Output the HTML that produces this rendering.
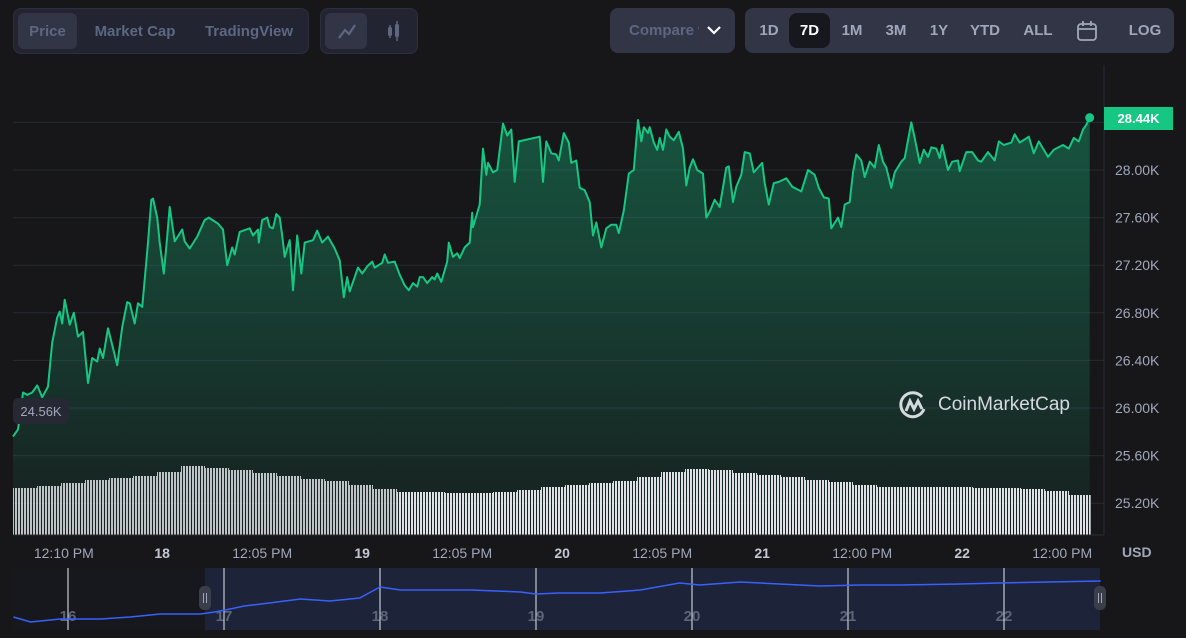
<!DOCTYPE html>
<html><head><meta charset="utf-8">
<style>
html,body{margin:0;padding:0;background:#17171a;width:1186px;height:638px;overflow:hidden;font-family:"Liberation Sans",sans-serif;}
.grp{position:absolute;border-radius:8px;box-sizing:border-box;}
.btn{position:absolute;top:0;height:100%;display:flex;align-items:center;justify-content:center;font-size:15px;font-weight:bold;color:#5d6781;}
.rbtn{position:absolute;top:5px;height:35px;display:flex;align-items:center;justify-content:center;font-size:15px;font-weight:bold;color:#a1a7bb;border-radius:8px;}
</style></head>
<body>
<div class="grp" style="left:13px;top:8px;width:296px;height:46px;background:#222531;border:1px solid #2c2f3d;">
  <div class="btn" style="left:4px;top:4px;height:36px;width:59px;background:#323546;border-radius:6px;">Price</div>
  <div class="btn" style="left:72px;width:98px;">Market Cap</div>
  <div class="btn" style="left:180px;width:110px;">TradingView</div>
</div>
<div class="grp" style="left:320px;top:8px;width:98px;height:46px;background:#222531;border:1px solid #2c2f3d;">
  <div style="position:absolute;left:4px;top:4px;width:42px;height:36px;background:#323546;border-radius:6px;">
    <svg width="42" height="36"><polyline points="14,25 20,17 24,21 30,12" fill="none" stroke="#5d6781" stroke-width="2.2"/></svg></div>
  <div style="position:absolute;left:54px;top:4px;width:42px;height:36px;">
    <svg width="42" height="36"><rect x="13" y="14" width="4" height="9" rx="1.5" fill="#5d6781"/><line x1="15" y1="12" x2="15" y2="25" stroke="#5d6781" stroke-width="1.5"/><rect x="20" y="11" width="4" height="13" rx="1.5" fill="#5d6781"/><line x1="22" y1="8" x2="22" y2="28" stroke="#5d6781" stroke-width="1.5"/></svg></div>
</div>
<div class="grp" style="left:610px;top:8px;width:125px;height:45px;background:#323546;">
  <span style="position:absolute;left:19px;top:14px;font-size:15px;font-weight:bold;color:#5d6781;width:70px;overflow:hidden;white-space:nowrap;">Compare with</span>
  <svg style="position:absolute;left:96px;top:15px" width="16" height="14"><polyline points="2,4 8,10 14,4" fill="none" stroke="#fff" stroke-width="2.2"/></svg>
</div>
<div class="grp" style="left:745px;top:8px;width:429px;height:45px;background:#323546;">
  <div class="rbtn" style="left:8px;width:32px;">1D</div>
  <div class="rbtn" style="left:44px;width:41px;background:#17181e;color:#fff;">7D</div>
  <div class="rbtn" style="left:90px;width:34px;">1M</div>
  <div class="rbtn" style="left:133px;width:36px;">3M</div>
  <div class="rbtn" style="left:180px;width:28px;">1Y</div>
  <div class="rbtn" style="left:220px;width:40px;">YTD</div>
  <div class="rbtn" style="left:274px;width:38px;">ALL</div>
  <div class="rbtn" style="left:328px;width:28px;"><svg width="22" height="22"><rect x="2" y="4" width="18" height="16" rx="3" fill="none" stroke="#a1a7bb" stroke-width="1.8"/><line x1="2" y1="9" x2="20" y2="9" stroke="#a1a7bb" stroke-width="1.8"/><line x1="7" y1="1" x2="7" y2="6" stroke="#a1a7bb" stroke-width="1.8"/><line x1="15" y1="1" x2="15" y2="6" stroke="#a1a7bb" stroke-width="1.8"/></svg></div>
  <div class="rbtn" style="left:380px;width:40px;">LOG</div>
</div>

<svg id="chart" width="1186" height="638" style="position:absolute;left:0;top:0;">
  <defs>
    <linearGradient id="areaGrad" x1="0" y1="0" x2="0" y2="1">
      <stop offset="0" stop-color="#16c784" stop-opacity="0.35"/>
      <stop offset="1" stop-color="#16c784" stop-opacity="0.05"/>
    </linearGradient>
    <pattern id="stripes" width="3" height="10" patternUnits="userSpaceOnUse">
      <rect x="0" y="0" width="2" height="10" fill="#e8ebf0"/>
    </pattern>
  </defs>
  <g id="grid"></g>
  <g id="area"></g>
  <g id="vol"></g>
  <g id="line"></g>
  <g id="axes"></g>
  <g id="nav"></g>
</svg>

<div style="position:absolute;left:1104px;top:107px;width:69px;height:23px;background:#16c784;color:#fff;font-weight:bold;font-size:13px;display:flex;align-items:center;justify-content:center;">28.44K</div>
<div style="position:absolute;left:13px;top:398px;width:56px;height:26px;background:#262833;border-radius:5px;color:#a1a7bb;font-size:13px;display:flex;align-items:center;justify-content:center;">24.56K</div>
<div style="position:absolute;left:898px;top:389px;display:flex;align-items:center;color:#d5d9e0;font-size:19px;">
  <svg width="32" height="32"><path d="M 26 20 A 12 12 0 1 1 24 8" fill="none" stroke="#d5d9e0" stroke-width="3"/><polyline points="8,22 12,12 16,20 20,12 24,20" fill="none" stroke="#d5d9e0" stroke-width="3"/></svg>
  <span style="margin-left:8px;">CoinMarketCap</span>
</div>
<div style="position:absolute;left:1122px;top:544px;font-size:14px;font-weight:bold;color:#a1a7bb;">USD</div>

<script>
const hours=[0,0.6,1.2,1.7,2.3,2.9,3.5,4.2,4.7,5.3,5.6,5.9,6.2,6.8,7.3,7.8,8.4,9.0,9.5,10.1,10.4,10.8,11.4,11.9,12.5,13.1,13.7,14.0,14.6,15.0,15.5,15.8,16.2,16.6,16.8,17.3,17.6,18.1,18.5,18.8,19.4,20.3,20.6,21.2,22.1,23.0,23.5,24.6,25.2,25.7,26.3,26.6,27.2,28.4,28.8,29.4,29.5,29.9,30.5,30.8,31.2,31.6,32.0,32.3,32.6,33.2,33.6,34.1,34.6,35.0,36.0,36.5,37.1,37.8,38.6,39.2,39.7,40.1,40.4,41.0,41.4,41.9,42.5,43.1,43.4,44.3,44.6,45.0,45.8,46.4,47.0,47.5,48.0,48.5,48.8,49.2,49.7,50.3,50.6,50.9,51.4,52.1,52.3,52.8,53.3,53.6,54.2,54.8,55.1,55.2,56.0,56.4,56.8,57.0,57.6,58.1,58.8,59.3,59.8,60.2,60.7,63.2,63.6,64.0,64.6,65.2,65.5,66.1,66.7,67.0,67.6,68.0,68.6,69.2,69.6,70.0,70.6,71.2,71.8,72.4,72.7,73.3,73.9,74.5,75.0,75.4,75.7,76.2,76.4,76.9,77.3,77.6,78.0,78.4,78.8,79.3,79.9,80.4,80.8,81.2,81.6,82.1,82.8,83.2,83.6,84.2,84.8,85.6,85.9,86.4,86.8,87.4,87.8,88.4,88.9,89.9,90.2,90.7,91.3,91.9,92.8,93.5,94.6,95.4,96.2,96.7,97.3,97.9,98.2,99.0,99.4,99.8,100.4,100.8,101.2,101.8,102.2,102.8,103.4,103.9,104.4,104.8,105.4,105.8,106.6,107.0,107.8,108.2,108.8,109.3,109.8,110.2,110.8,111.2,111.5,112.2,112.7,113.4,113.6,114.4,115.1,115.8,116.2,117.0,117.8,118.3,118.9,119.8,120.2,120.8,121.9,122.5,123.1,124.2,124.9,126.0,126.7,127.3,127.9,128.4,128.8,129.2];
const prices=[25760,25820,26130,26110,26130,26190,26090,26180,26550,26760,26810,26710,26910,26700,26800,26600,26640,26210,26420,26390,26500,26420,26670,26530,26360,26680,26890,26880,26710,26880,26850,27080,27390,27750,27760,27600,27390,27130,27440,27690,27400,27500,27400,27340,27440,27580,27600,27550,27500,27200,27350,27290,27480,27510,27450,27500,27390,27580,27600,27520,27510,27630,27600,27450,27270,27410,26990,27450,27130,27390,27410,27490,27390,27440,27340,27240,26930,27100,26980,27100,27180,27130,27190,27230,27180,27220,27290,27220,27230,27120,27030,26990,27050,27020,27100,27100,27050,27100,27080,27130,27060,27230,27390,27270,27300,27260,27350,27390,27640,27520,27710,28180,27960,28060,27980,28000,28390,28290,28340,27900,28240,28280,27900,28240,28140,28130,28080,28310,28230,28060,28080,27850,27830,27730,27450,27560,27350,27510,27540,27540,27470,27660,27970,28000,28420,28240,28360,28310,28360,28230,28170,28270,28170,28340,28280,28250,28320,28180,27870,28020,28090,28000,27970,27600,27650,27750,27690,28020,28030,27730,27860,27960,28150,28140,27980,28060,27890,27710,27890,27900,27930,27860,27820,28000,27960,27850,27770,27760,27510,27600,27520,27710,27730,27980,28130,28080,27940,28070,28020,28210,28070,28020,27850,27980,28070,28100,28400,28270,28060,28170,28110,28190,28180,28100,28210,28000,28070,28080,27990,28150,28150,28080,28070,28150,28080,28240,28210,28230,28300,28230,28280,28140,28240,28110,28170,28210,28180,28270,28240,28340,28380,28440];
const volumes=[470,490,520,550,570,590,630,690,670,650,620,590,560,540,500,460,430,430,420,420,430,450,480,500,520,540,580,630,660,650,620,600,580,550,530,500,480,480,480,480,470,470,460,440,400];
const yTicks=[25200,25600,26000,26400,26800,27200,27600,28000,28400];
const yTickLabels=["25.20K","25.60K","26.00K","26.40K","26.80K","27.20K","27.60K","28.00K",""];
const xTickHours=[6.1,17.9,29.9,41.9,53.9,65.9,77.9,89.9,101.9,113.9,125.9];
const xTickLabels=["12:10 PM","18","12:05 PM","19","12:05 PM","20","12:05 PM","21","12:00 PM","22","12:00 PM"];
const navDays=[15.65,15.76,15.95,16.21,16.40,16.59,16.85,16.94,17.04,17.13,17.29,17.49,17.68,17.87,18.0,18.13,18.32,18.58,18.90,19.0,19.15,19.41,19.67,19.92,20.05,20.31,20.56,20.82,21.08,21.33,21.72,21.97,22.29,22.62];
const navPrices=[24245,23660,24010,24010,24245,24595,24595,24830,25180,25530,25880,26340,26110,26460,27740,27390,27390,27390,27160,26930,27040,27040,27390,28210,27970,28320,28090,27860,27970,27970,28090,28210,28320,28440];
const navTickDays=[16,17,18,19,20,21,22];
const navTickLabels=["16","17","18","19","20","21","22"];

const NS="http://www.w3.org/2000/svg";
function mk(tag,attrs,parent){const e=document.createElementNS(NS,tag);for(const k in attrs)e.setAttribute(k,attrs[k]);parent.appendChild(e);return e;}
const X0=13, PX_PER_H=1/0.12;
function xScale(h){return X0+h*PX_PER_H;}
function yScale(p){return 170+(28000-p)/8.403;}
const VOL_BASE=535, VOL_K=0.1, VOL_W=24;
function vScale(v){return VOL_BASE-v*VOL_K;}
function navX(d){return 68+(d-16)*156;}
function navY(p){return 604-(p-25760)/116.5;}

const grid=document.getElementById('grid');
const axes=document.getElementById('axes');
yTicks.forEach((t,i)=>{
  const l=mk('line',{x1:13,x2:1104,y1:yScale(t),y2:yScale(t),stroke:'#262937','stroke-width':1},grid);
  
  
  if(yTickLabels[i]){
    const tx=mk('text',{x:1115,y:yScale(t)+5,fill:'#a1a7bb','font-size':14,'font-family':'Liberation Sans, sans-serif'},axes);
    tx.textContent=yTickLabels[i];
    
    
  }
});
const ax1=mk('line',{x1:1104,x2:1104,y1:65,y2:535,stroke:'#2a2d3a'},axes);


const ax2=mk('line',{x1:13,x2:1104,y1:535,y2:535,stroke:'#2a2d3a'},axes);


xTickHours.forEach((h,i)=>{
  const bold=/^\d+$/.test(xTickLabels[i]);
  const tx=mk('text',{x:xScale(h),y:558,fill:bold?'#c3c8d5':'#a1a7bb','font-size':14,'font-weight':bold?'bold':'normal','text-anchor':'middle','font-family':'Liberation Sans, sans-serif'},axes);
  tx.textContent=xTickLabels[i];
  
  
});

let d='';
hours.forEach((h,i)=>{d+=(i?'L':'M')+xScale(h).toFixed(1)+','+yScale(prices[i]).toFixed(1);});
const lastX=xScale(hours[hours.length-1]);
const area=mk('path',{d:d+'L'+lastX+',535L'+xScale(hours[0])+',535Z',fill:'url(#areaGrad)'},document.getElementById('area'));



const vg=document.getElementById('vol');
volumes.forEach((v,i)=>{
  const x=X0+i*VOL_W;
  const w=Math.min(VOL_W,lastX+1-x);
  const r=mk('rect',{x:x,y:vScale(v),width:w,height:VOL_BASE-vScale(v),fill:'url(#stripes)',opacity:x<376?0.8:0.95},vg);
  
  
});

const ln=mk('path',{d:d,fill:'none',stroke:'#16c784','stroke-width':2,'stroke-linejoin':'round'},document.getElementById('line'));


const dot=mk('circle',{cx:lastX,cy:yScale(prices[prices.length-1]),r:4.5,fill:'#16c784'},document.getElementById('line'));



const nav=document.getElementById('nav');
const nbg=mk('rect',{x:13,y:568,width:1087,height:62,fill:'#17181d'},nav);


const sel=mk('rect',{x:205,y:568,width:895,height:62,fill:'#1d2339'},nav);


navTickDays.forEach((dd,i)=>{
  const l=mk('line',{x1:navX(dd),x2:navX(dd),y1:568,y2:630,stroke:'#e8ebf0','stroke-width':1},nav);
  
  
  const t=mk('text',{x:navX(dd),y:621,fill:'#5d6378','font-size':15,'font-weight':'bold','text-anchor':'middle','font-family':'Liberation Sans, sans-serif'},nav);
  t.textContent=navTickLabels[i];
  
  
});
let nd='';
navDays.forEach((dd,i)=>{nd+=(i?'L':'M')+navX(dd).toFixed(1)+','+navY(navPrices[i]).toFixed(1);});
const nl=mk('path',{d:nd,fill:'none',stroke:'#3861fb','stroke-width':1.5},nav);


[205,1100].forEach((hx,i)=>{
  const h=mk('rect',{x:hx-6,y:586,width:12,height:24,rx:5,fill:'#3a3d4a'},nav);
  
  
  mk('line',{x1:hx-1.5,x2:hx-1.5,y1:593,y2:603,stroke:'#a1a7bb'},nav);
  mk('line',{x1:hx+1.5,x2:hx+1.5,y1:593,y2:603,stroke:'#a1a7bb'},nav);
});
</script>
</body></html>
